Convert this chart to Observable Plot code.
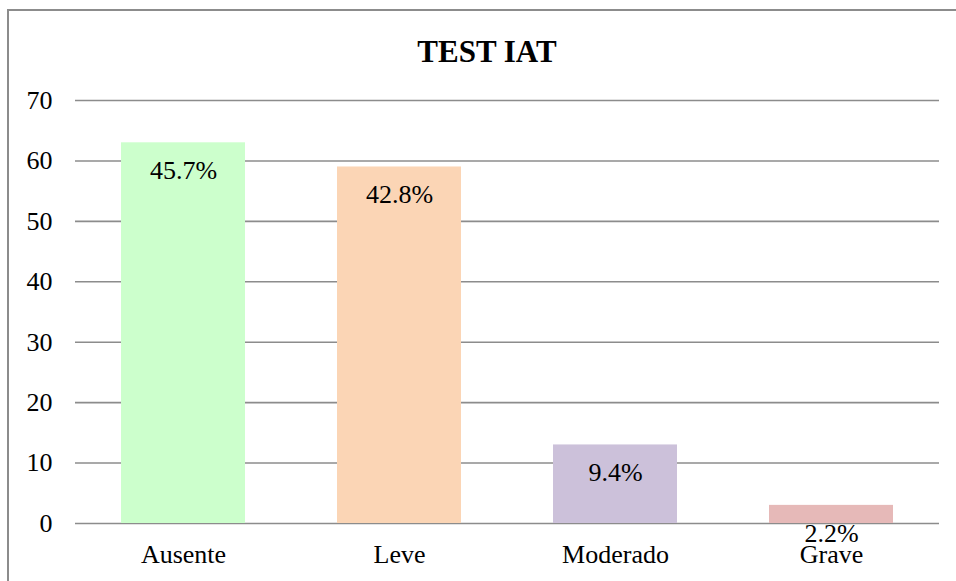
<!DOCTYPE html>
<html>
<head>
<meta charset="utf-8">
<script src="https://cdn.jsdelivr.net/npm/d3@7"></script>
<script src="https://cdn.jsdelivr.net/npm/@observablehq/plot@0.6"></script>
</head>
<body style="margin:0;padding:0;background:#fff">
<div id="wrap" style="position:relative;width:956px;height:581px;overflow:hidden;background:#fff">
  <div style="position:absolute;left:7px;top:9px;width:1200px;height:1200px;border-left:2px solid #8c8c8c;border-top:2px solid #8c8c8c"></div>
  <div id="title" style="position:absolute;left:8px;width:958px;top:36px;text-align:center;font-family:'Liberation Serif';font-weight:bold;font-size:31px;line-height:31px;color:#000">TEST IAT</div>
  <div id="chart" style="position:absolute;left:0;top:0"></div>
</div>
<script>
const categories = ["Ausente", "Leve", "Moderado", "Grave"];
const counts = [63, 59, 13, 3];
const percentLabels = ["45.7%", "42.8%", "9.4%", "2.2%"];
const barColors = ["#ccffcc", "#fbd5b5", "#ccc1da", "#e6b9b8"];
const yTicks = [0, 10, 20, 30, 40, 50, 60, 70];

const data = categories.map((c, i) => ({category: c, count: counts[i], label: percentLabels[i]}));

const chart = Plot.plot({
  width: 956,
  height: 581,
  marginTop: 100,
  marginBottom: 58,
  marginLeft: 75,
  marginRight: 17,
  style: "font-family:'Liberation Serif';font-size:26px;color:#000;background:transparent",
  x: {domain: categories, paddingInner: 0.426, paddingOuter: 0.213, label: null},
  y: {domain: [0, 70], ticks: yTicks, label: null},
  color: {domain: categories, range: barColors},
  marks: [
    Plot.ruleY(yTicks, {stroke: "#8c8c8c", strokeWidth: 1.6}),
    Plot.barY(data, {x: "category", y: "count", fill: "category"}),
    Plot.text(data, {x: "category", y: "count", text: "label", dy: 28, fill: "#000", fontSize: 26}),
    Plot.axisY({ticks: yTicks, tickSize: 0, tickPadding: 23, fontSize: 26, label: null}),
    Plot.axisX({tickSize: 0, tickPadding: 21, fontSize: 26, label: null})
  ]
});
d3.select(chart).attr("font-family", "Liberation Serif");
d3.select(chart).selectAll("g, text").attr("font-family", "Liberation Serif").style("font-family", "'Liberation Serif'");
document.getElementById("chart").appendChild(chart);
</script>
</body>
</html>
